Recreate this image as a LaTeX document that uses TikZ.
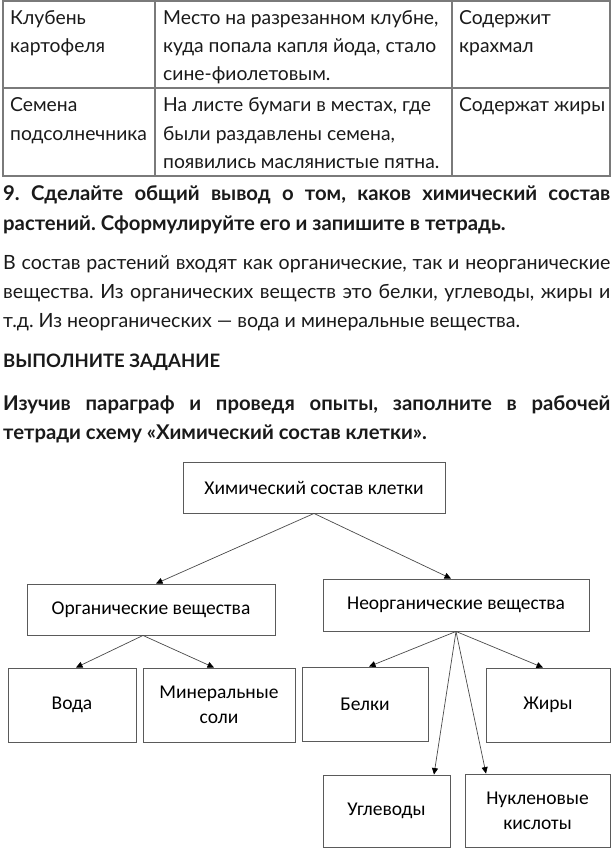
\documentclass[tikz,border=0pt]{standalone}
\usepackage{fontspec}
\setmainfont{Lato}
\newfontfamily\diag{Carlito}
\usetikzlibrary{arrows.meta}
\frenchspacing
\definecolor{ink}{HTML}{1A1A1A}
\definecolor{tblline}{HTML}{7A7A7A}
\definecolor{boxline}{HTML}{5A5A5A}
\definecolor{arrline}{HTML}{4A4A4A}
\newcommand{\bodyfont}{\fontsize{19.6}{22}\selectfont}
\newcommand{\cellfont}{\fontsize{19.3}{22}\selectfont}
\newcommand{\headfont}{\fontsize{20.3}{22}\selectfont\bfseries}
\tikzset{
  txt/.style={anchor=base west, inner sep=0pt, text=ink, font=\bodyfont},
  ctxt/.style={anchor=base west, inner sep=0pt, text=ink, font=\cellfont},
  btxt/.style={anchor=base west, inner sep=0pt, text=ink, font=\headfont},
  tbl/.style={draw=tblline, line width=1.1pt},
  box/.style={draw=boxline, line width=0.9pt, inner sep=0pt, align=center,
    text=black, font=\diag\fontsize{19.5}{25}\selectfont},
  arr/.style={draw=arrline, line width=0.7pt,
    -{Triangle[length=6.5pt,width=6pt,color=black]}}
}
\begin{document}
\begin{tikzpicture}[x=1pt,y=-1pt]
\useasboundingbox[fill=white] (0,0) rectangle (612,848);

% ---------- table ----------
\draw[tbl] (3,1) rectangle (610,176);
\draw[tbl] (155,1) -- (155,176);
\draw[tbl] (452,1) -- (452,176);
\draw[tbl] (3,88) -- (610,88);

\node[ctxt] (c11a) at (10,25) {Клубень};
\node[ctxt] (c11b) at (10,53) {картофеля};
\node[ctxt] (c12a) at (163,25) {Место на разрезанном клубне,};
\node[ctxt] (c12b) at (163,53) {куда попала капля йода, стало};
\node[ctxt] (c12c) at (163,81) {сине-фиолетовым.};
\node[ctxt] (c13a) at (459,25) {Содержит};
\node[ctxt] (c13b) at (459,53) {крахмал};

\node[ctxt] (c21a) at (10,112) {Семена};
\node[ctxt] (c21b) at (10,140) {подсолнечника};
\node[ctxt] (c22a) at (163,112) {На листе бумаги в местах, где};
\node[ctxt] (c22b) at (163,140) {были раздавлены семена,};
\node[ctxt] (c22c) at (163,168) {появились маслянистые пятна.};
\node[ctxt] (c23a) at (459,112) {Содержат жиры};

% ---------- text ----------
\node[btxt] (h1) at (3,200) {\makebox[607pt][s]{9. Сделайте общий вывод о том, каков химический состав}};
\node[btxt] (h2) at (3,230) {растений. Сформулируйте его и запишите в тетрадь.};

\node[txt] (p1) at (3,269) {\makebox[607pt][s]{В состав растений входят как органические, так и неорганические}};
\node[txt] (p2) at (3,298) {\makebox[607pt][s]{вещества. Из органических веществ это белки, углеводы, жиры и}};
\node[txt] (p3) at (3,327) {т.д. Из неорганических — вода и минеральные вещества.};

\node[btxt, font=\fontsize{18.5}{22}\selectfont\bfseries] (t0) at (3,367) {ВЫПОЛНИТЕ ЗАДАНИЕ};
\node[btxt] (t1) at (3,410) {\makebox[607pt][s]{Изучив параграф и проведя опыты, заполните в рабочей}};
\node[btxt] (t2) at (3,439) {тетради схему «Химический состав клетки».};

% ---------- diagram ----------
\node[box, minimum width=262pt, minimum height=51pt] (top) at (314,487.5) {Химический состав клетки};
\node[box, minimum width=248pt, minimum height=51pt] (org) at (151,609.5) {Органические вещества};
\node[box, minimum width=266pt, minimum height=52pt] (inorg) at (456,605) {Неорганические вещества};

\node[box, minimum width=128pt, minimum height=74pt] (voda) at (72,705) {Вода};
\node[box, minimum width=152pt, minimum height=74pt] (miner) at (219,705) {Минеральные\\соли};
\node[box, minimum width=126pt, minimum height=74pt] (belki) at (365,704) {Белки};
\node[box, minimum width=124pt, minimum height=74pt] (zhiry) at (548,705) {Жиры};
\node[box, minimum width=127pt, minimum height=72pt] (ugl) at (386.5,811) {Углеводы};
\node[box, minimum width=145pt, minimum height=73pt] (nukl) at (537.5,810.5) {Нукленовые\\кислоты};

\draw[arr] (top.south) -- ([xshift=5pt]org.north);
\draw[arr] (top.south) -- ([xshift=-5pt]inorg.north);
\draw[arr] ([xshift=-8pt]org.south) -- ([xshift=4pt]voda.north);
\draw[arr] ([xshift=-8pt]org.south) -- ([xshift=-5pt]miner.north);
\draw[arr] (inorg.south) -- ([xshift=4pt]belki.north);
\draw[arr] (inorg.south) -- ([xshift=-5pt]zhiry.north);
\draw[arr] (inorg.south) -- ([xshift=47.5pt]ugl.north);
\draw[arr] (inorg.south) -- ([xshift=-51.5pt]nukl.north);
\end{tikzpicture}
\end{document}
